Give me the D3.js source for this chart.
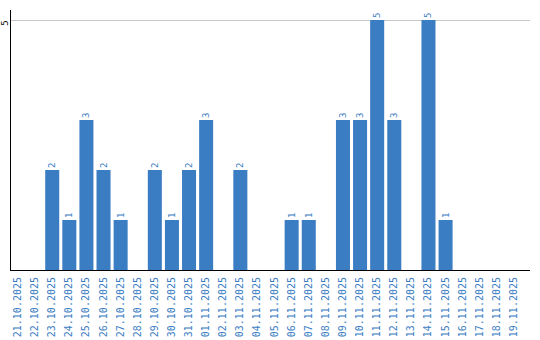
<!DOCTYPE html>
<html>
<head>
<meta charset="utf-8">
<script src="https://d3js.org/d3.v7.min.js"></script>
<style>
body { margin: 0; background: #fff; }
svg { display: block; }
</style>
</head>
<body>
<svg id="chart"></svg>
<script>
const DATES = ["21.10.2025","22.10.2025","23.10.2025","24.10.2025","25.10.2025","26.10.2025",
    "27.10.2025","28.10.2025","29.10.2025","30.10.2025","31.10.2025","01.11.2025",
    "02.11.2025","03.11.2025","04.11.2025","05.11.2025","06.11.2025","07.11.2025",
    "08.11.2025","09.11.2025","10.11.2025","11.11.2025","12.11.2025","13.11.2025",
    "14.11.2025","15.11.2025","16.11.2025","17.11.2025","18.11.2025","19.11.2025"];
const COUNTS = [0,0,2,1,3,2,1,0,2,1,2,3,0,2,0,0,1,1,0,3,3,5,3,0,5,1,0,0,0,0];
const Y_TICKS = [5];

const WIDTH = 540;
const HEIGHT = 340;
const LEFT = 10;
const TOP = 20;
const BASE = 270;
const BLUE = "#3b7dc3";

let data = DATES.map(function(d, i){ return {date: d, v: COUNTS[i]}; });

let svg = d3.select("#chart")
    .attr("width", WIDTH)
    .attr("height", HEIGHT);

let xScale = d3.scaleBand()
    .domain(DATES)
    .range([LEFT + 1, LEFT + 1 + 17 * DATES.length])
    .paddingInner(0.18)
    .paddingOuter(0);

let yScale = d3.scaleLinear()
    .domain([0, 5])
    .range([BASE, TOP]);

// gridline
svg.selectAll("line.grid")
    .data(Y_TICKS)
    .enter()
    .append("line")
    .attr("x1", LEFT)
    .attr("x2", 530)
    .attr("y1", function(d){ return yScale(d) + 0.5; })
    .attr("y2", function(d){ return yScale(d) + 0.5; })
    .style("stroke", "#c8c8c8")
    .style("stroke-width", 1);

svg.selectAll("text.ytick")
    .data(Y_TICKS)
    .enter()
    .append("text")
    .attr("class", "ytick")
    .text(function(d){ return d; })
    .attr("transform", function(d){ return "translate(8," + (yScale(d) + 3) + ") rotate(-90)"; })
    .attr("font-family", "DejaVu Sans Mono, monospace")
    .attr("font-size", "9px")
    .attr("fill", "#000")
    .style("text-anchor", "middle");

svg.selectAll("rect")
    .data(data.filter(function(d){ return d.v > 0; }))
    .enter()
    .append("rect")
    .attr("x", function(d){ return xScale(d.date); })
    .attr("y", function(d){ return yScale(d.v); })
    .attr("width", xScale.bandwidth())
    .attr("height", function(d){ return BASE - yScale(d.v); })
    .style("fill", BLUE);

svg.selectAll("text.val")
    .data(data.filter(function(d){ return d.v > 0; }))
    .enter()
    .append("text")
    .attr("class", "val")
    .text(function(d){ return d.v; })
    .attr("transform", function(d){
        return "translate(" + (xScale(d.date) + xScale.bandwidth() / 2 + 3) + "," + (yScale(d.v) - 2) + ") rotate(-90)";
    })
    .attr("font-family", "DejaVu Sans Mono, monospace")
    .attr("font-size", "9px")
    .attr("fill", BLUE)
    .style("text-anchor", "start");

// axes lines
svg.append("line")
    .attr("x1", LEFT + 0.5).attr("x2", LEFT + 0.5)
    .attr("y1", 10).attr("y2", BASE + 0.5)
    .style("stroke", "#000");
svg.append("line")
    .attr("x1", LEFT).attr("x2", 530)
    .attr("y1", BASE + 0.5).attr("y2", BASE + 0.5)
    .style("stroke", "#000");

svg.selectAll("text.xtick")
    .data(DATES)
    .enter()
    .append("text")
    .attr("class", "xtick")
    .text(function(d){ return d; })
    .attr("transform", function(d){
        return "translate(" + (xScale(d) + xScale.bandwidth() / 2 + 3) + ",277) rotate(-90)";
    })
    .attr("font-family", "DejaVu Sans Mono, monospace")
    .attr("font-size", "10px")
    .attr("fill", BLUE)
    .style("text-anchor", "end");
</script>
</body>
</html>
